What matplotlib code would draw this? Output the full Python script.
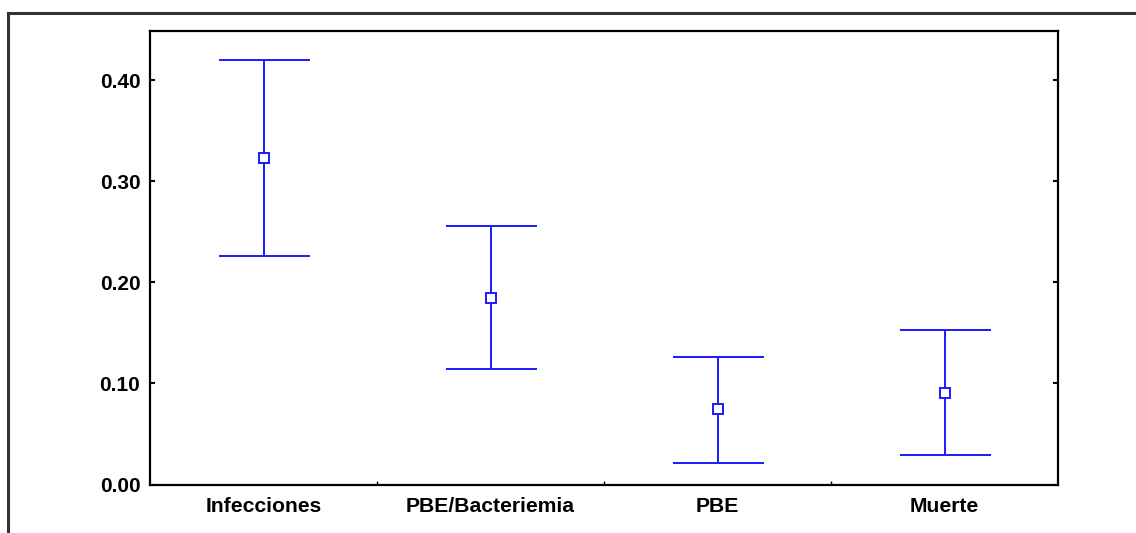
import matplotlib
matplotlib.use("Agg")
import matplotlib.pyplot as plt
from matplotlib.lines import Line2D
import numpy as np

categories = ["Infecciones", "PBE/Bacteriemia", "PBE", "Muerte"]
means = [0.323, 0.1845, 0.0743, 0.0908]
upper = [0.420, 0.2561, 0.1261, 0.1529]
lower = [0.2258, 0.1139, 0.0212, 0.0291]
yticks = [0.0, 0.1, 0.2, 0.3, 0.4]
ytick_labels = ["0.00", "0.10", "0.20", "0.30", "0.40"]

plt.rcParams['font.family'] = ['Liberation Sans', 'DejaVu Sans']

W, H = 1136, 533
fig = plt.figure(figsize=(W / 100, H / 100), dpi=100)
ax = fig.add_axes([150 / W, 1 - 484.5 / H, (1058 - 150) / W, (484.5 - 31) / H])

x = np.arange(1, len(categories) + 1)
m = np.array(means)
yerr = np.vstack([m - np.array(lower), np.array(upper) - m])
ax.errorbar(x, m, yerr=yerr, fmt='s', color='#1a1aff', ecolor='#1a1aff',
            elinewidth=1.4, capsize=45.5 * 0.72, capthick=1.4,
            markersize=7.5, markerfacecolor='white', markeredgecolor='#1a1aff',
            markeredgewidth=1.4, zorder=3)

ax.set_xlim(0.5, 4.5)
ax.set_ylim(0, 0.449)
ax.set_xticks(x)
ax.set_xticklabels(categories, fontsize=15.2, fontweight='bold')
ax.set_xticks([1.5, 2.5, 3.5], minor=True)
ax.set_yticks(yticks)
ax.set_yticklabels(ytick_labels, fontsize=15, fontweight='bold')
ax.tick_params(axis='x', which='major', length=0, pad=9)
ax.tick_params(axis='x', which='minor', direction='in', length=3, width=1, top=False)
ax.tick_params(axis='y', which='major', direction='in', length=3.5, width=1.5,
               right=True, pad=7)
for s in ax.spines.values():
    s.set_linewidth(1.6)
    s.set_color('black')

# outer frame lines
fig.add_artist(Line2D([8 / W, 1.0], [1 - 12.5 / H, 1 - 12.5 / H],
                      transform=fig.transFigure, color='#333333', lw=2.2))
fig.add_artist(Line2D([8 / W, 8 / W], [1 - 12.5 / H, 0.0],
                      transform=fig.transFigure, color='#333333', lw=2.2))

fig.savefig("out.png", dpi=100)
